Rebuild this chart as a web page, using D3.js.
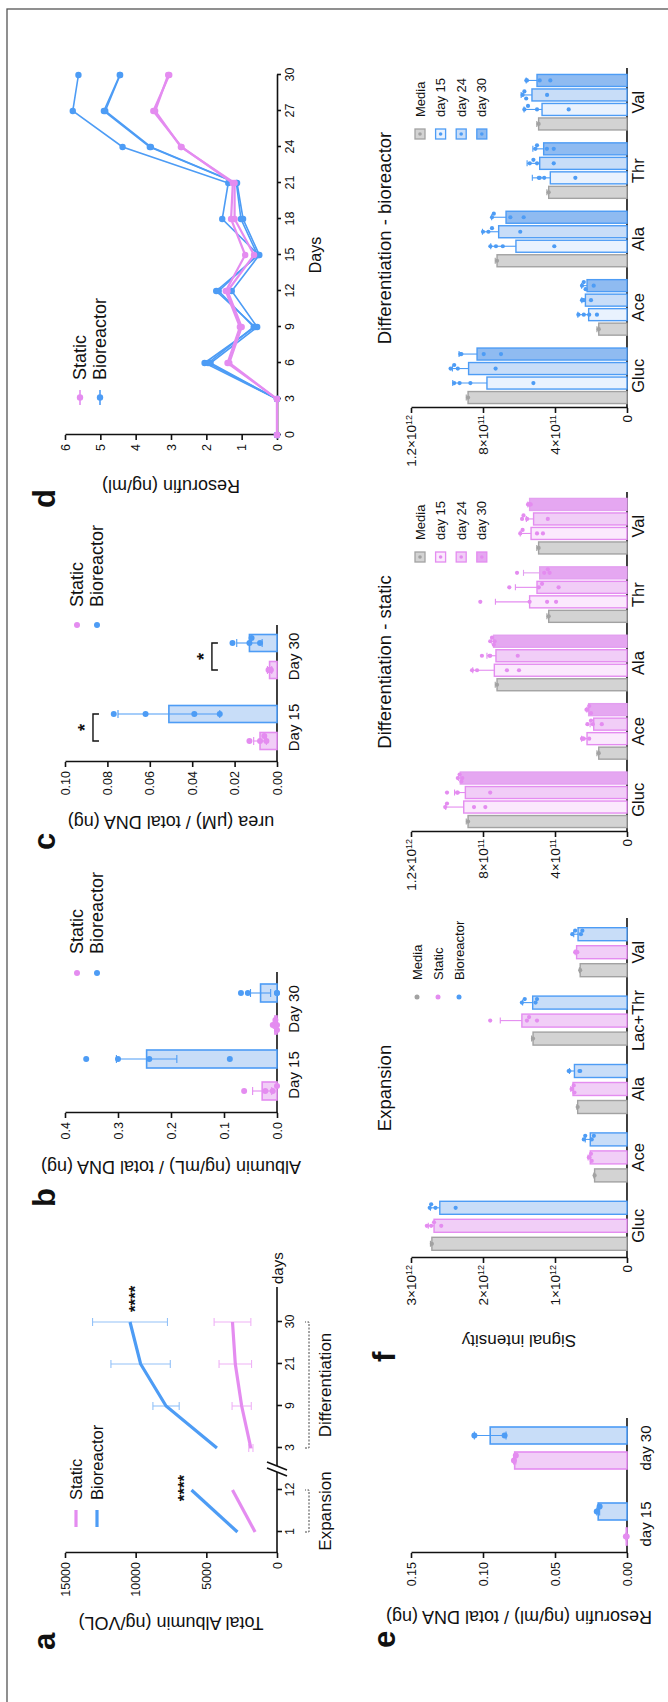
<!DOCTYPE html>
<html>
<head>
<meta charset="utf-8">
<script src="https://cdn.jsdelivr.net/npm/d3@7"></script>
<style>
  body { margin: 0; background: #fff; }
  svg { display: block; font-family: "Liberation Sans", Arial, sans-serif; }
</style>
</head>
<body>
<div id="chart"></div>
<script>
// ---------- data ----------
// a - total albumin
var albDays = ["1", "12", "3", "9", "21", "30"];
var albStatic = [1550, 3150, 1850, 2500, 2950, 3150];
var albStaticErr = [0, 0, 150, 680, 1150, 1300];
var albBio = [2800, 6050, 4250, 7850, 9650, 10400];
var albBioErr = [0, 0, 0, 930, 2100, 2650];
var albYTicks = [0, 5000, 10000, 15000];

// b - albumin / DNA
var dayGroups = ["Day 15", "Day 30"];
var albDnaStatic = [0.028, 0.004];
var albDnaStaticErr = [0.018, 0.003];
var albDnaStaticPts = [[0.062, 0.022, 0.008, 0.0], [0.008, 0.003, 0.0, 0.0]];
var albDnaBio = [0.246, 0.031];
var albDnaBioErr = [0.057, 0.019];
var albDnaBioPts = [[0.36, 0.30, 0.241, 0.089], [0.068, 0.055, 0.0, 0.0]];
var albDnaTicks = [0, 0.1, 0.2, 0.3, 0.4];

// c - urea / DNA
var ureaStatic = [0.008, 0.0035];
var ureaStaticErr = [0.003, 0.001];
var ureaStaticPts = [[0.013, 0.008, 0.006, 0.005], [0.004, 0.0035, 0.003, 0.003]];
var ureaBio = [0.051, 0.013];
var ureaBioErr = [0.024, 0.006];
var ureaBioPts = [[0.077, 0.062, 0.039, 0.027], [0.021, 0.013, 0.012, 0.008]];
var ureaSig = [0.0868, 0.0307];
var ureaTicks = [0, 0.02, 0.04, 0.06, 0.08, 0.10];

// d - resorufin time course (replicates)
var resDays = [0, 3, 6, 9, 12, 15, 18, 21, 24, 27, 30];
var resStaticA = [0, 0, 1.40, 1.05, 1.45, 0.90, 1.30, 1.25, 2.70, 3.50, 3.05];
var resStaticB = [0, 0, 1.35, 1.00, 1.40, 0.65, 1.20, 1.20, 2.72, 3.45, 3.08];
var resBioA = [0, 0, 2.05, 0.62, 1.72, 0.52, 1.55, 1.38, 4.37, 5.78, 5.62];
var resBioB = [0, 0, 1.88, 0.56, 1.28, 0.50, 0.96, 1.13, 3.57, 4.86, 4.44];
var resBioC = [0, 0, 1.95, 0.66, 1.65, 0.55, 1.02, 1.15, 3.60, 4.90, 4.45];
var resYTicks = [0, 1, 2, 3, 4, 5, 6];

// e - resorufin / DNA
var resDnaGroups = ["day 15", "day 30"];
var resDnaStatic = [0.0005, 0.078];
var resDnaStaticErr = [0.0003, 0.0008];
var resDnaStaticPts = [[0.0008, 0.0002], [0.0785, 0.0772]];
var resDnaBio = [0.020, 0.095];
var resDnaBioErr = [0.001, 0.011];
var resDnaBioPts = [[0.021, 0.019], [0.106, 0.085]];
var resDnaTicks = [0, 0.05, 0.10, 0.15];

// f - metabolites (signal intensity, x 1e12)
var expCats = ["Gluc", "Ace", "Ala", "Lac+Thr", "Val"];
var expMedia = [2.71, 0.45, 0.685, 1.305, 0.65];
var expMediaErr = [0.02, 0.01, 0.01, 0.02, 0.01];
var expStatic = [2.68, 0.51, 0.75, 1.46, 0.70];
var expStaticErr = [0.08, 0.03, 0.03, 0.30, 0.02];
var expStaticPts = [[2.78, 2.72, 2.68, 2.58], [0.53, 0.52, 0.50, 0.49], [0.77, 0.76, 0.74, 0.73], [1.90, 1.39, 1.36, 1.25], [0.72, 0.71, 0.70, 0.69]];
var expBio = [2.60, 0.51, 0.73, 1.31, 0.68];
var expBioErr = [0.13, 0.07, 0.07, 0.14, 0.06];
var expBioPts = [[2.74, 2.72, 2.66, 2.38], [0.60, 0.58, 0.49, 0.46], [0.81, 0.80, 0.66, 0.65], [1.46, 1.42, 1.27, 1.25], [0.76, 0.72, 0.64, 0.62]];
var expTicks = [0, 1, 2, 3];

var diffCats = ["Gluc", "Ace", "Ala", "Thr", "Val"];
var diffMedia = [0.883, 0.157, 0.722, 0.435, 0.491];
var diffMediaErr = [0.01, 0.01, 0.01, 0.01, 0.01];
var statD15 = [0.907, 0.222, 0.737, 0.541, 0.533];
var statD15Err = [0.10, 0.03, 0.12, 0.19, 0.06];
var statD15Pts = [[1.01, 1.0, 0.85, 0.787], [0.25, 0.245, 0.24, 0.21], [0.861, 0.833, 0.667, 0.60], [0.815, 0.541, 0.444, 0.394], [0.593, 0.58, 0.50, 0.467]];
var statD24 = [0.898, 0.185, 0.728, 0.50, 0.519];
var statD24Err = [0.06, 0.02, 0.05, 0.12, 0.04];
var statD24Pts = [[1.0, 0.944, 0.94, 0.76], [0.22, 0.20, 0.19, 0.14], [0.806, 0.763, 0.76, 0.607], [0.654, 0.49, 0.472, 0.38], [0.583, 0.575, 0.555, 0.44]];
var statD30 = [0.926, 0.213, 0.741, 0.485, 0.541];
var statD30Err = [0.01, 0.01, 0.01, 0.09, 0.01];
var statD30Pts = [[0.94, 0.93, 0.92, 0.915], [0.225, 0.22, 0.21, 0.20], [0.76, 0.75, 0.74, 0.735], [0.611, 0.46, 0.44, 0.43], [0.55, 0.545, 0.54, 0.535]];
var bioD15 = [0.778, 0.213, 0.617, 0.426, 0.472];
var bioD15Err = [0.19, 0.06, 0.14, 0.10, 0.10];
var bioD15Pts = [[0.96, 0.93, 0.87, 0.52], [0.27, 0.24, 0.21, 0.167], [0.759, 0.728, 0.69, 0.404], [0.49, 0.485, 0.46, 0.287], [0.57, 0.55, 0.50, 0.324]];
var bioD24 = [0.88, 0.231, 0.713, 0.485, 0.528];
var bioD24Err = [0.09, 0.02, 0.09, 0.07, 0.06];
var bioD24Pts = [[0.98, 0.96, 0.94, 0.73], [0.25, 0.245, 0.24, 0.20], [0.80, 0.77, 0.75, 0.593], [0.54, 0.52, 0.50, 0.407], [0.58, 0.57, 0.56, 0.444]];
var bioD30 = [0.833, 0.222, 0.672, 0.463, 0.50];
var bioD30Err = [0.10, 0.03, 0.08, 0.06, 0.06];
var bioD30Pts = [[0.926, 0.92, 0.796, 0.70], [0.25, 0.24, 0.23, 0.185], [0.75, 0.74, 0.648, 0.574], [0.509, 0.50, 0.445, 0.407], [0.559, 0.556, 0.485, 0.426]];
var diffTicks = [0, 0.4, 0.8, 1.2];

// ---------- setup ----------
var W = 668, H = 1702;
var PINK = "#e48cf0", BLUE = "#4d9cf5", GREY = "#a2a2a2";
var PINK_FILL = "#f1cef7", BLUE_FILL = "#c8ddf8", GREY_FILL = "#d3d3d3";

var svg = d3.select("#chart").append("svg").attr("width", W).attr("height", H);
// the figure is laid out in landscape and turned a quarter turn
var fig = svg.append("g").attr("transform", "translate(0," + H + ") rotate(-90)");

fig.append("rect")
    .attr("x", -10).attr("y", 7).attr("width", 1703).attr("height", 700)
    .attr("fill", "none").attr("stroke", "#555").attr("stroke-width", 1.3);

function txt(x, y, s, fs, opts) {
    opts = opts || {};
    var t = fig.append("text").attr("x", x).attr("y", y).text(s)
        .attr("font-size", fs).attr("fill", "#111")
        .attr("text-anchor", opts.anchor || "start");
    if (opts.weight) t.attr("font-weight", opts.weight);
    if (opts.mid) t.attr("dominant-baseline", "central");
    return t;
}
function vtxt(x, y, s, fs) {
    return fig.append("text")
        .attr("transform", "translate(" + x + "," + y + ") rotate(-90)")
        .attr("text-anchor", "middle").attr("font-size", fs).attr("fill", "#111").text(s);
}
function styleAxis(g, fs) {
    g.attr("font-family", null).attr("font-size", fs);
    g.select(".domain").attr("stroke", "#111").attr("stroke-width", 1.6);
    g.selectAll(".tick line").attr("stroke", "#111").attr("stroke-width", 1.6);
    g.selectAll(".tick text").attr("fill", "#111");
}
function leftAxis(x, scale, ticks, fmt, fs, pad) {
    var g = fig.append("g").attr("transform", "translate(" + x + ",0)")
        .call(d3.axisLeft(scale).tickValues(ticks).tickFormat(fmt).tickSize(5)
            .tickPadding(pad == null ? 4 : pad).tickSizeOuter(0));
    styleAxis(g, fs || 12.5);
    return g;
}
function catAxis(y, scale, x0, x1, fs, pad) {
    var g = fig.append("g").attr("transform", "translate(0," + y + ")")
        .call(d3.axisBottom(scale).tickSize(0).tickPadding(pad));
    g.select(".domain").attr("d", "M" + x0 + ",0H" + x1);
    styleAxis(g, fs);
    return g;
}
function letter(x, y, s) { txt(x, y, s, 31, { weight: "bold" }); }

// simple dot swarm so equal values sit side by side
function swarm(vals, y, r, maxOff) {
    var placed = [], out = [];
    var order = vals.map(function(v, i) { return i; }).sort(function(a, b) { return vals[b] - vals[a]; });
    order.forEach(function(i) {
        var py = y(vals[i]), off = 0;
        var cands = [0];
        for (var k = 1; k < 6; k++) cands.push(k * r * 1.7, -k * r * 1.7);
        for (var c = 0; c < cands.length; c++) {
            if (Math.abs(cands[c]) > maxOff) continue;
            var ok = placed.every(function(p) { return Math.hypot(p.x - cands[c], p.y - py) >= r * 1.8; });
            if (ok) { off = cands[c]; break; }
        }
        placed.push({ x: off, y: py });
        out[i] = { x: off, y: py };
    });
    return out;
}

// grouped bars with error bars and dots
function drawBars(groups, x0, off, y, barW, series, opt) {
    series.forEach(function(s) {
        var rows = groups.map(function(g, i) {
            return { g: g, cx: x0(g) + x0.bandwidth() / 2 + off(s.key), m: s.means[i], e: s.errs[i], p: s.pts[i] };
        });
        var sg = fig.append("g");
        sg.selectAll("rect").data(rows).enter().append("rect")
            .attr("x", function(d) { return d.cx - barW / 2; })
            .attr("y", function(d) { return y(d.m); })
            .attr("width", barW)
            .attr("height", function(d) { return y(0) - y(d.m); })
            .attr("fill", s.fill).attr("stroke", s.stroke).attr("stroke-width", opt.sw || 1.6);
        var eg = sg.append("g").attr("stroke", s.stroke).attr("stroke-width", 1.1);
        rows.forEach(function(d) {
            var top = y(d.m + d.e), bot = opt.both ? y(Math.max(0, d.m - d.e)) : y(d.m);
            eg.append("line").attr("x1", d.cx).attr("x2", d.cx).attr("y1", bot).attr("y2", top);
            eg.append("line").attr("x1", d.cx - opt.cap).attr("x2", d.cx + opt.cap).attr("y1", top).attr("y2", top);
            if (opt.both) eg.append("line").attr("x1", d.cx - opt.cap).attr("x2", d.cx + opt.cap).attr("y1", bot).attr("y2", bot);
        });
        rows.forEach(function(d) {
            var pos = swarm(d.p, y, opt.r, barW / 2 - opt.r + 1);
            sg.append("g").selectAll("circle").data(pos).enter().append("circle")
                .attr("cx", function(p) { return d.cx + p.x; })
                .attr("cy", function(p) { return p.y; })
                .attr("r", opt.r).attr("fill", s.dot || s.stroke);
        });
    });
}

// ---------- a ----------
letter(52, 55, "a");
var xa = d3.scalePoint().domain(albDays).range([170, 380]);
var ya = d3.scaleLinear().domain([0, 15000]).range([277, 65]);
leftAxis(149, ya, albYTicks, d3.format("d"), 12.5);
var axA = fig.append("g").attr("transform", "translate(0,277)")
    .call(d3.axisBottom(xa).tickSize(5).tickPadding(3));
axA.select(".domain").attr("d", "M149,0H415");
styleAxis(axA, 12.5);
// axis break
var brk = (xa("12") + xa("3")) / 2;
fig.append("rect").attr("x", brk - 3).attr("y", 274).attr("width", 6).attr("height", 6).attr("fill", "#fff");
[-3, 3].forEach(function(dx) {
    fig.append("line").attr("x1", brk + dx - 4).attr("y1", 287).attr("x2", brk + dx + 4).attr("y2", 267)
        .attr("stroke", "#111").attr("stroke-width", 1.6);
});
txt(418, 277, "days", 15, { mid: true });
vtxt(85, 171, "Total Albumin (ng/VOL)", 18);

function drawAlb(vals, errs, col, errCol) {
    var eg = fig.append("g").attr("stroke", errCol).attr("stroke-width", 1.1);
    albDays.forEach(function(d, i) {
        if (!errs[i]) return;
        var x = xa(d), y1 = ya(vals[i] - errs[i]), y2 = ya(vals[i] + errs[i]);
        eg.append("line").attr("x1", x).attr("x2", x).attr("y1", y1).attr("y2", y2);
        [y1, y2].forEach(function(yy) {
            eg.append("line").attr("x1", x - 4).attr("x2", x + 4).attr("y1", yy).attr("y2", yy);
        });
    });
    var line = d3.line().x(function(i) { return xa(albDays[i]); }).y(function(i) { return ya(vals[i]); });
    [[0, 1], [2, 3, 4, 5]].forEach(function(seg) {
        fig.append("path").attr("d", line(seg)).attr("fill", "none")
            .attr("stroke", col).attr("stroke-width", 3.2);
    });
}
drawAlb(albStatic, albStaticErr, PINK, "#efb2f6");
drawAlb(albBio, albBioErr, BLUE, "#93c2f8");
txt(xa("12") + 2, ya(albBio[1]) - 1, "****", 17, { anchor: "middle", weight: "bold" });
txt(xa("30") + 10, ya(albBio[5]) + 11, "****", 17, { weight: "bold" });

// phase brackets
function phase(x0, x1, label) {
    fig.append("path").attr("d", "M" + x0 + ",305V309H" + x1 + "V305")
        .attr("fill", "none").attr("stroke", "#333").attr("stroke-width", 0.9).attr("stroke-dasharray", "2,1.5");
    txt((x0 + x1) / 2, 331, label, 17, { anchor: "middle" });
}
phase(xa("1"), xa("12"), "Expansion");
phase(xa("3"), xa("30"), "Differentiation");

// legend a
[["Static", PINK], ["Bioreactor", BLUE]].forEach(function(d, i) {
    var yy = 76 + i * 21;
    fig.append("line").attr("x1", 175).attr("x2", 192).attr("y1", yy).attr("y2", yy)
        .attr("stroke", d[1]).attr("stroke-width", 3.2);
    txt(202, yy, d[0], 16.5, { mid: true });
});

// dot legend for b, c
function dotLegend(x, tx) {
    [["Static", PINK], ["Bioreactor", BLUE]].forEach(function(d, i) {
        var yy = 77 + i * 20;
        fig.append("circle").attr("cx", x).attr("cy", yy).attr("r", 3).attr("fill", d[1]);
        txt(tx, yy, d[0], 18, { mid: true });
    });
}

// ---------- b ----------
letter(495, 55, "b");
var xb = d3.scaleBand().domain(dayGroups).range([594, 726]);
var ob = d3.scalePoint().domain(["s", "b"]).range([-16, 16]);
var yb = d3.scaleLinear().domain([0, 0.4]).range([277, 65]);
leftAxis(589, yb, albDnaTicks, d3.format(".1f"));
catAxis(277, xb, 589, 730, 15, 11);
vtxt(541, 171, "Albumin (ng/mL) / total DNA (ng)", 18);
drawBars(dayGroups, xb, ob, yb, 18, [
    { key: "s", means: albDnaStatic, errs: albDnaStaticErr, pts: albDnaStaticPts, fill: PINK_FILL, stroke: PINK },
    { key: "b", means: albDnaBio, errs: albDnaBioErr, pts: albDnaBioPts, fill: BLUE_FILL, stroke: BLUE }
], { both: true, cap: 4, r: 3 });
dotLegend(729, 748);

// ---------- c ----------
letter(852, 55, "c");
var xc = d3.scaleBand().domain(dayGroups).range([939, 1081]);
var oc = d3.scalePoint().domain(["s", "b"]).range([-13.5, 13.5]);
var yc = d3.scaleLinear().domain([0, 0.10]).range([277, 65]);
leftAxis(940, yc, ureaTicks, d3.format(".2f"));
catAxis(277, xc, 940, 1077, 15, 11);
vtxt(886, 171, "urea (\u03bcM) / total DNA (ng)", 18);
drawBars(dayGroups, xc, oc, yc, 17, [
    { key: "s", means: ureaStatic, errs: ureaStaticErr, pts: ureaStaticPts, fill: PINK_FILL, stroke: PINK },
    { key: "b", means: ureaBio, errs: ureaBioErr, pts: ureaBioPts, fill: BLUE_FILL, stroke: BLUE }
], { both: true, cap: 4, r: 3 });
dayGroups.forEach(function(g, i) {
    var c = xc(g) + xc.bandwidth() / 2, x0 = c + oc("s"), x1 = c + oc("b"), yy = yc(ureaSig[i]);
    fig.append("path").attr("d", "M" + x0 + "," + (yy + 6) + "V" + yy + "H" + x1 + "V" + (yy + 6))
        .attr("fill", "none").attr("stroke", "#111").attr("stroke-width", 1.4);
    txt(c, yy - 2, "*", 18, { anchor: "middle", weight: "bold" });
});
dotLegend(1077, 1095);

// ---------- d ----------
letter(1194, 55, "d");
var xd = d3.scaleLinear().domain([0, 30]).range([1267, 1627]);
var yd = d3.scaleLinear().domain([0, 6]).range([277, 65]);
leftAxis(1267, yd, resYTicks, d3.format("d"));
var axD = fig.append("g").attr("transform", "translate(0,277)")
    .call(d3.axisBottom(xd).tickValues(resDays).tickSize(4).tickPadding(4).tickSizeOuter(0));
styleAxis(axD, 12.5);
txt(1447, 321, "Days", 16, { anchor: "middle" });
vtxt(1222, 171, "Resorufin (ng/ml)", 18);
var lineD = d3.line().x(function(d, i) { return xd(resDays[i]); }).y(function(d) { return yd(d); });
function repLine(vals, col, sw) {
    fig.append("path").attr("d", lineD(vals)).attr("fill", "none").attr("stroke", col).attr("stroke-width", sw);
    fig.append("g").selectAll("circle").data(vals).enter().append("circle")
        .attr("cx", function(d, i) { return xd(resDays[i]); })
        .attr("cy", function(d) { return yd(d); })
        .attr("r", 3.2).attr("fill", col);
}
[resBioA, resBioB, resBioC].forEach(function(v) { repLine(v, BLUE, 1.6); });
[resStaticA, resStaticB].forEach(function(v) { repLine(v, PINK, 2.2); });
[["Static", PINK], ["Bioreactor", BLUE]].forEach(function(d, i) {
    var yy = 80 + i * 20;
    fig.append("line").attr("x1", 1297).attr("x2", 1312).attr("y1", yy).attr("y2", yy)
        .attr("stroke", d[1]).attr("stroke-width", 1.6);
    fig.append("circle").attr("cx", 1304.5).attr("cy", yy).attr("r", 3.2).attr("fill", d[1]);
    txt(1322, yy, d[0], 18, { mid: true });
});

// ---------- e ----------
letter(54, 395, "e");
var xe = d3.scaleBand().domain(resDnaGroups).range([140, 292]);
var oe = d3.scalePoint().domain(["s", "b"]).range([-12.5, 12.5]);
var ye = d3.scaleLinear().domain([0, 0.15]).range([627, 411]);
leftAxis(149, ye, resDnaTicks, d3.format(".2f"));
catAxis(627, xe, 149, 284, 15, 13);
vtxt(91, 519, "Resorufin (ng/ml) / total DNA (ng)", 18);
drawBars(resDnaGroups, xe, oe, ye, 17, [
    { key: "s", means: resDnaStatic, errs: resDnaStaticErr, pts: resDnaStaticPts, fill: PINK_FILL, stroke: PINK },
    { key: "b", means: resDnaBio, errs: resDnaBioErr, pts: resDnaBioPts, fill: BLUE_FILL, stroke: BLUE }
], { both: true, cap: 4, r: 3 });

// ---------- f ----------
letter(340, 395, "f");
function sciAxis(x, scale, ticks) {
    var g = leftAxis(x, scale, ticks, null, 13.5, 2);
    g.selectAll(".tick text").each(function(v) {
        var t = d3.select(this).text("");
        if (v === 0) { t.text("0"); return; }
        var e = Math.floor(Math.log10(v) + 1e-9), m = +(v / Math.pow(10, e)).toFixed(2);
        t.append("tspan").text(m + "\u00d710");
        t.append("tspan").attr("dy", "-0.45em").attr("font-size", 9).text(e);
    });
}
function metaPanel(x0px, x1px, cats, yMax, ticks, title, series, keys, barW, step) {
    var xs = d3.scaleBand().domain(cats).range([x0px, x1px]);
    var os = d3.scalePoint().domain(keys).range([-(keys.length - 1) * step / 2, (keys.length - 1) * step / 2]);
    var ys = d3.scaleLinear().domain([0, yMax]).range([627, 411]);
    sciAxis(x0px + 2, ys, ticks);
    catAxis(627, xs, x0px + 2, x1px, 16.5, 5);
    drawBars(cats, xs, os, ys, barW, series, { both: false, cap: 3, r: 2.1, sw: 1.4 });
    txt((x0px + 2 + x1px) / 2, 391, title, 18.5, { anchor: "middle" });
}
function scaled(arr) { return arr.map(function(v) { return v * 1e12; }); }
function scaledPts(arr) { return arr.map(scaled); }
function single(arr) { return arr.map(function(v) { return [v * 1e12]; }); }

metaPanel(442, 784, expCats, 3e12, scaled(expTicks), "Expansion", [
    { key: "m", means: scaled(expMedia), errs: scaled(expMediaErr), pts: single(expMedia), fill: GREY_FILL, stroke: GREY },
    { key: "s", means: scaled(expStatic), errs: scaled(expStaticErr), pts: scaledPts(expStaticPts), fill: PINK_FILL, stroke: PINK },
    { key: "b", means: scaled(expBio), errs: scaled(expBioErr), pts: scaledPts(expBioPts), fill: BLUE_FILL, stroke: BLUE }
], ["m", "s", "b"], 13, 18);
vtxt(367, 519, "Signal intensity", 17);
[["Media", GREY], ["Static", PINK], ["Bioreactor", BLUE]].forEach(function(d, i) {
    var yy = 417 + i * 21;
    fig.append("circle").attr("cx", 705).attr("cy", yy).attr("r", 2.5).attr("fill", d[1]);
    txt(722, yy, d[0], 13, { mid: true });
});

var statFills = ["#fbe9fd", "#f1cdf7", "#e5a7f1"];
var bioFills = ["#e9f2fe", "#c8ddf8", "#8fbbf1"];
metaPanel(868, 1210, diffCats, 1.2e12, scaled(diffTicks), "Differentiation - static", [
    { key: "m", means: scaled(diffMedia), errs: scaled(diffMediaErr), pts: single(diffMedia), fill: GREY_FILL, stroke: GREY },
    { key: "15", means: scaled(statD15), errs: scaled(statD15Err), pts: scaledPts(statD15Pts), fill: statFills[0], stroke: PINK },
    { key: "24", means: scaled(statD24), errs: scaled(statD24Err), pts: scaledPts(statD24Pts), fill: statFills[1], stroke: PINK },
    { key: "30", means: scaled(statD30), errs: scaled(statD30Err), pts: scaledPts(statD30Pts), fill: statFills[2], stroke: "#e39ff0", dot: PINK }
], ["m", "15", "24", "30"], 12, 14.5);
metaPanel(1292, 1634, diffCats, 1.2e12, scaled(diffTicks), "Differentiation - bioreactor", [
    { key: "m", means: scaled(diffMedia), errs: scaled(diffMediaErr), pts: single(diffMedia), fill: GREY_FILL, stroke: GREY },
    { key: "15", means: scaled(bioD15), errs: scaled(bioD15Err), pts: scaledPts(bioD15Pts), fill: bioFills[0], stroke: BLUE },
    { key: "24", means: scaled(bioD24), errs: scaled(bioD24Err), pts: scaledPts(bioD24Pts), fill: bioFills[1], stroke: BLUE },
    { key: "30", means: scaled(bioD30), errs: scaled(bioD30Err), pts: scaledPts(bioD30Pts), fill: bioFills[2], stroke: BLUE }
], ["m", "15", "24", "30"], 12, 14.5);

function boxLegend(x, tx, fills, col) {
    var rows = [["Media", GREY_FILL, GREY], ["day 15", fills[0], col], ["day 24", fills[1], col], ["day 30", fills[2], col]];
    rows.forEach(function(d, i) {
        var yy = 420 + i * 20.6;
        fig.append("rect").attr("x", x - 5).attr("y", yy - 5).attr("width", 10).attr("height", 10)
            .attr("fill", d[1]).attr("stroke", d[2]).attr("stroke-width", 1.3);
        fig.append("circle").attr("cx", x).attr("cy", yy).attr("r", 1.8).attr("fill", i === 0 ? GREY : col);
        txt(tx, yy, d[0], 13, { mid: true });
    });
}
boxLegend(1145, 1162, statFills, PINK);
boxLegend(1568, 1585, bioFills, BLUE);
</script>
</body>
</html>
